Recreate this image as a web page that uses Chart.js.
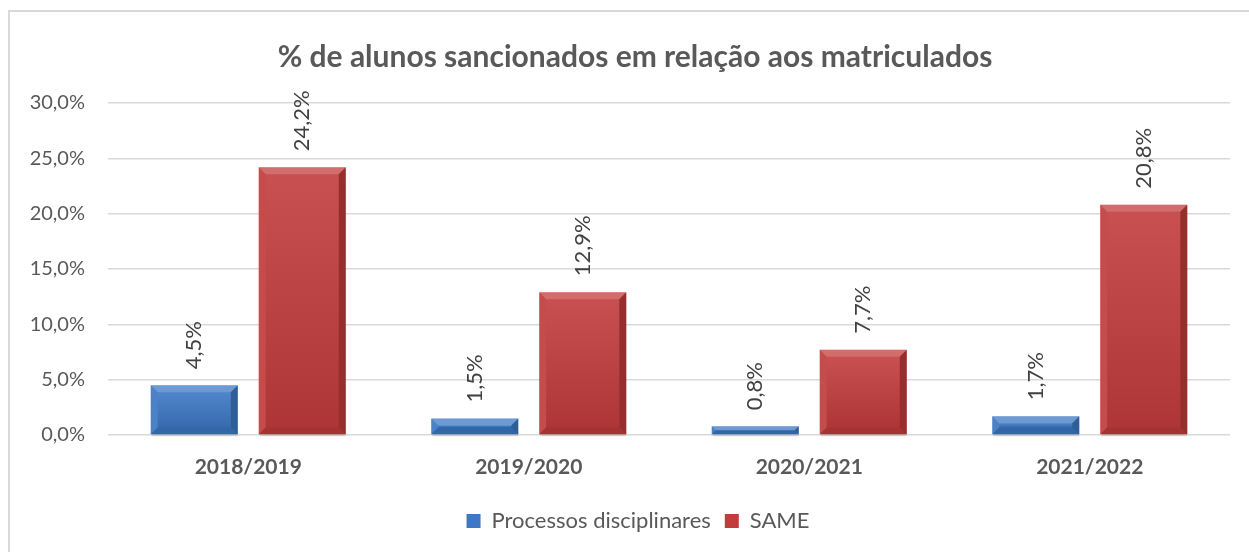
<!DOCTYPE html>
<html>
<head>
<meta charset="utf-8">
<script src="https://cdn.jsdelivr.net/npm/chart.js@4.4.0/dist/chart.umd.min.js"></script>
<style>
  html,body{margin:0;padding:0;background:#fff;}
  #wrap{position:relative;width:1249px;height:552px;overflow:hidden;}
  #frame{position:absolute;left:8px;top:10px;width:1260px;height:560px;border:2px solid #d9d9d9;box-sizing:border-box;}
  canvas{position:absolute;left:0;top:0;}
</style>
</head>
<body>
<div id="wrap"><div id="frame"></div><canvas id="c" width="1249" height="552"></canvas></div>
<script>
const categories = ['2018/2019', '2019/2020', '2020/2021', '2021/2022'];
const processos = [4.5, 1.5, 0.8, 1.7];
const same = [24.2, 12.9, 7.7, 20.8];
const seriesNames = ['Processos disciplinares', 'SAME'];
const titleText = '% de alunos sancionados em relação aos matriculados';

const FONT = 'Lato, Carlito, Calibri, sans-serif';
const fmt = v => v.toFixed(1).replace('.', ',') + '%';

const bevelPlugin = {
  id: 'bevel',
  afterLayout(chart) {
    if (chart.legend) { chart.legend.left += 23; chart.legend.right += 23; }
    if (chart.titleBlock) { chart.titleBlock.left += 20; chart.titleBlock.right += 20; }
  },
  beforeDatasetsDraw(chart) {
    const ctx = chart.ctx;
    ctx.save();
    chart.data.datasets.forEach((ds, i) => {
      chart.getDatasetMeta(i).data.forEach(el => {
        const w = el.width, l = el.x - w/2, t = el.y, b = el.base;
        ctx.fillStyle = 'rgba(0,0,0,0.12)';
        ctx.shadowColor = 'rgba(0,0,0,0.25)';
        ctx.shadowBlur = 5;
        ctx.shadowOffsetY = 2;
        ctx.fillRect(l+1, t+2, w-1, b - t);
      });
    });
    ctx.restore();
  },
  afterDatasetsDraw(chart) {
    const ctx = chart.ctx;
    ctx.save();
    chart.data.datasets.forEach((ds, i) => {
      chart.getDatasetMeta(i).data.forEach(el => {
        const w = el.width, l = el.x - w/2, r = el.x + w/2, t = el.y, b = el.base;
        const h = b - t;
        const bv = Math.min(7, h/2, w/2);
        ctx.fillStyle = 'rgba(255,255,255,0.25)';
        ctx.beginPath(); ctx.moveTo(l,t); ctx.lineTo(r,t); ctx.lineTo(r-bv,t+bv); ctx.lineTo(l+bv,t+bv); ctx.closePath(); ctx.fill();
        ctx.fillStyle = 'rgba(255,255,255,0.08)';
        ctx.beginPath(); ctx.moveTo(l,t); ctx.lineTo(l+bv,t+bv); ctx.lineTo(l+bv,b-bv); ctx.lineTo(l,b); ctx.closePath(); ctx.fill();
        ctx.fillStyle = 'rgba(0,0,0,0.22)';
        ctx.beginPath(); ctx.moveTo(r,t); ctx.lineTo(r,b); ctx.lineTo(r-bv,b-bv); ctx.lineTo(r-bv,t+bv); ctx.closePath(); ctx.fill();
        ctx.fillStyle = 'rgba(0,0,0,0.15)';
        ctx.beginPath(); ctx.moveTo(l,b); ctx.lineTo(r,b); ctx.lineTo(r-bv,b-bv); ctx.lineTo(l+bv,b-bv); ctx.closePath(); ctx.fill();
        const g = ctx.createLinearGradient(0, t+bv, 0, b-bv);
        g.addColorStop(0, 'rgba(255,255,255,0.10)');
        g.addColorStop(1, 'rgba(0,0,0,0.10)');
        ctx.fillStyle = g;
        if (h - 2*bv > 0) ctx.fillRect(l+bv, t+bv, w-2*bv, h-2*bv);
      });
    });
    ctx.restore();
  }
};

const labelPlugin = {
  id: 'vlabels',
  afterDatasetsDraw(chart) {
    const ctx = chart.ctx;
    ctx.save();
    ctx.font = '22px ' + FONT;
    ctx.fillStyle = '#404040';
    ctx.textAlign = 'left';
    ctx.textBaseline = 'middle';
    chart.data.datasets.forEach((ds, i) => {
      chart.getDatasetMeta(i).data.forEach((el, j) => {
        ctx.save();
        ctx.translate(el.x, el.y - 16);
        ctx.rotate(-Math.PI/2);
        ctx.fillText(fmt(ds.data[j]), 0, 0);
        ctx.restore();
      });
    });
    ctx.restore();
  }
};

new Chart(document.getElementById('c'), {
  type: 'bar',
  data: {
    labels: categories,
    datasets: [
      { label: seriesNames[0], data: processos, backgroundColor: '#3c78c3', borderWidth: 0 },
      { label: seriesNames[1], data: same, backgroundColor: '#c23c3c', borderWidth: 0 }
    ]
  },
  options: {
    responsive: false,
    animation: false,
    layout: { padding: { left: 0, right: 19, top: 0, bottom: 10 } },
    datasets: { bar: { categoryPercentage: 0.77, barPercentage: 0.806 } },
    plugins: {
      title: {
        display: true, text: titleText, color: '#595959',
        font: { family: FONT, size: 30, weight: 'bold' },
        padding: { top: 39, bottom: 28 }
      },
      legend: {
        position: 'bottom',
        labels: {
          color: '#595959', font: { family: FONT, size: 22 },
          boxWidth: 14, boxHeight: 14, padding: 14
        }
      },
      tooltip: { enabled: false }
    },
    scales: {
      x: {
        grid: { display: false, drawTicks: false },
        border: { display: false },
        ticks: { color: '#595959', font: { family: FONT, size: 21, weight: 'bold' }, padding: 20 },
        afterFit(s) { s.height = 61; }
      },
      y: {
        min: 0, max: 30,
        grid: { color: '#d9d9d9', lineWidth: 1.5, drawTicks: false },
        border: { display: false },
        ticks: { stepSize: 5, color: '#595959', font: { family: FONT, size: 20 }, padding: 23, callback: v => fmt(v) },
        afterFit(s) { s.width = 108; }
      }
    }
  },
  plugins: [bevelPlugin, labelPlugin]
});
</script>
</body>
</html>
